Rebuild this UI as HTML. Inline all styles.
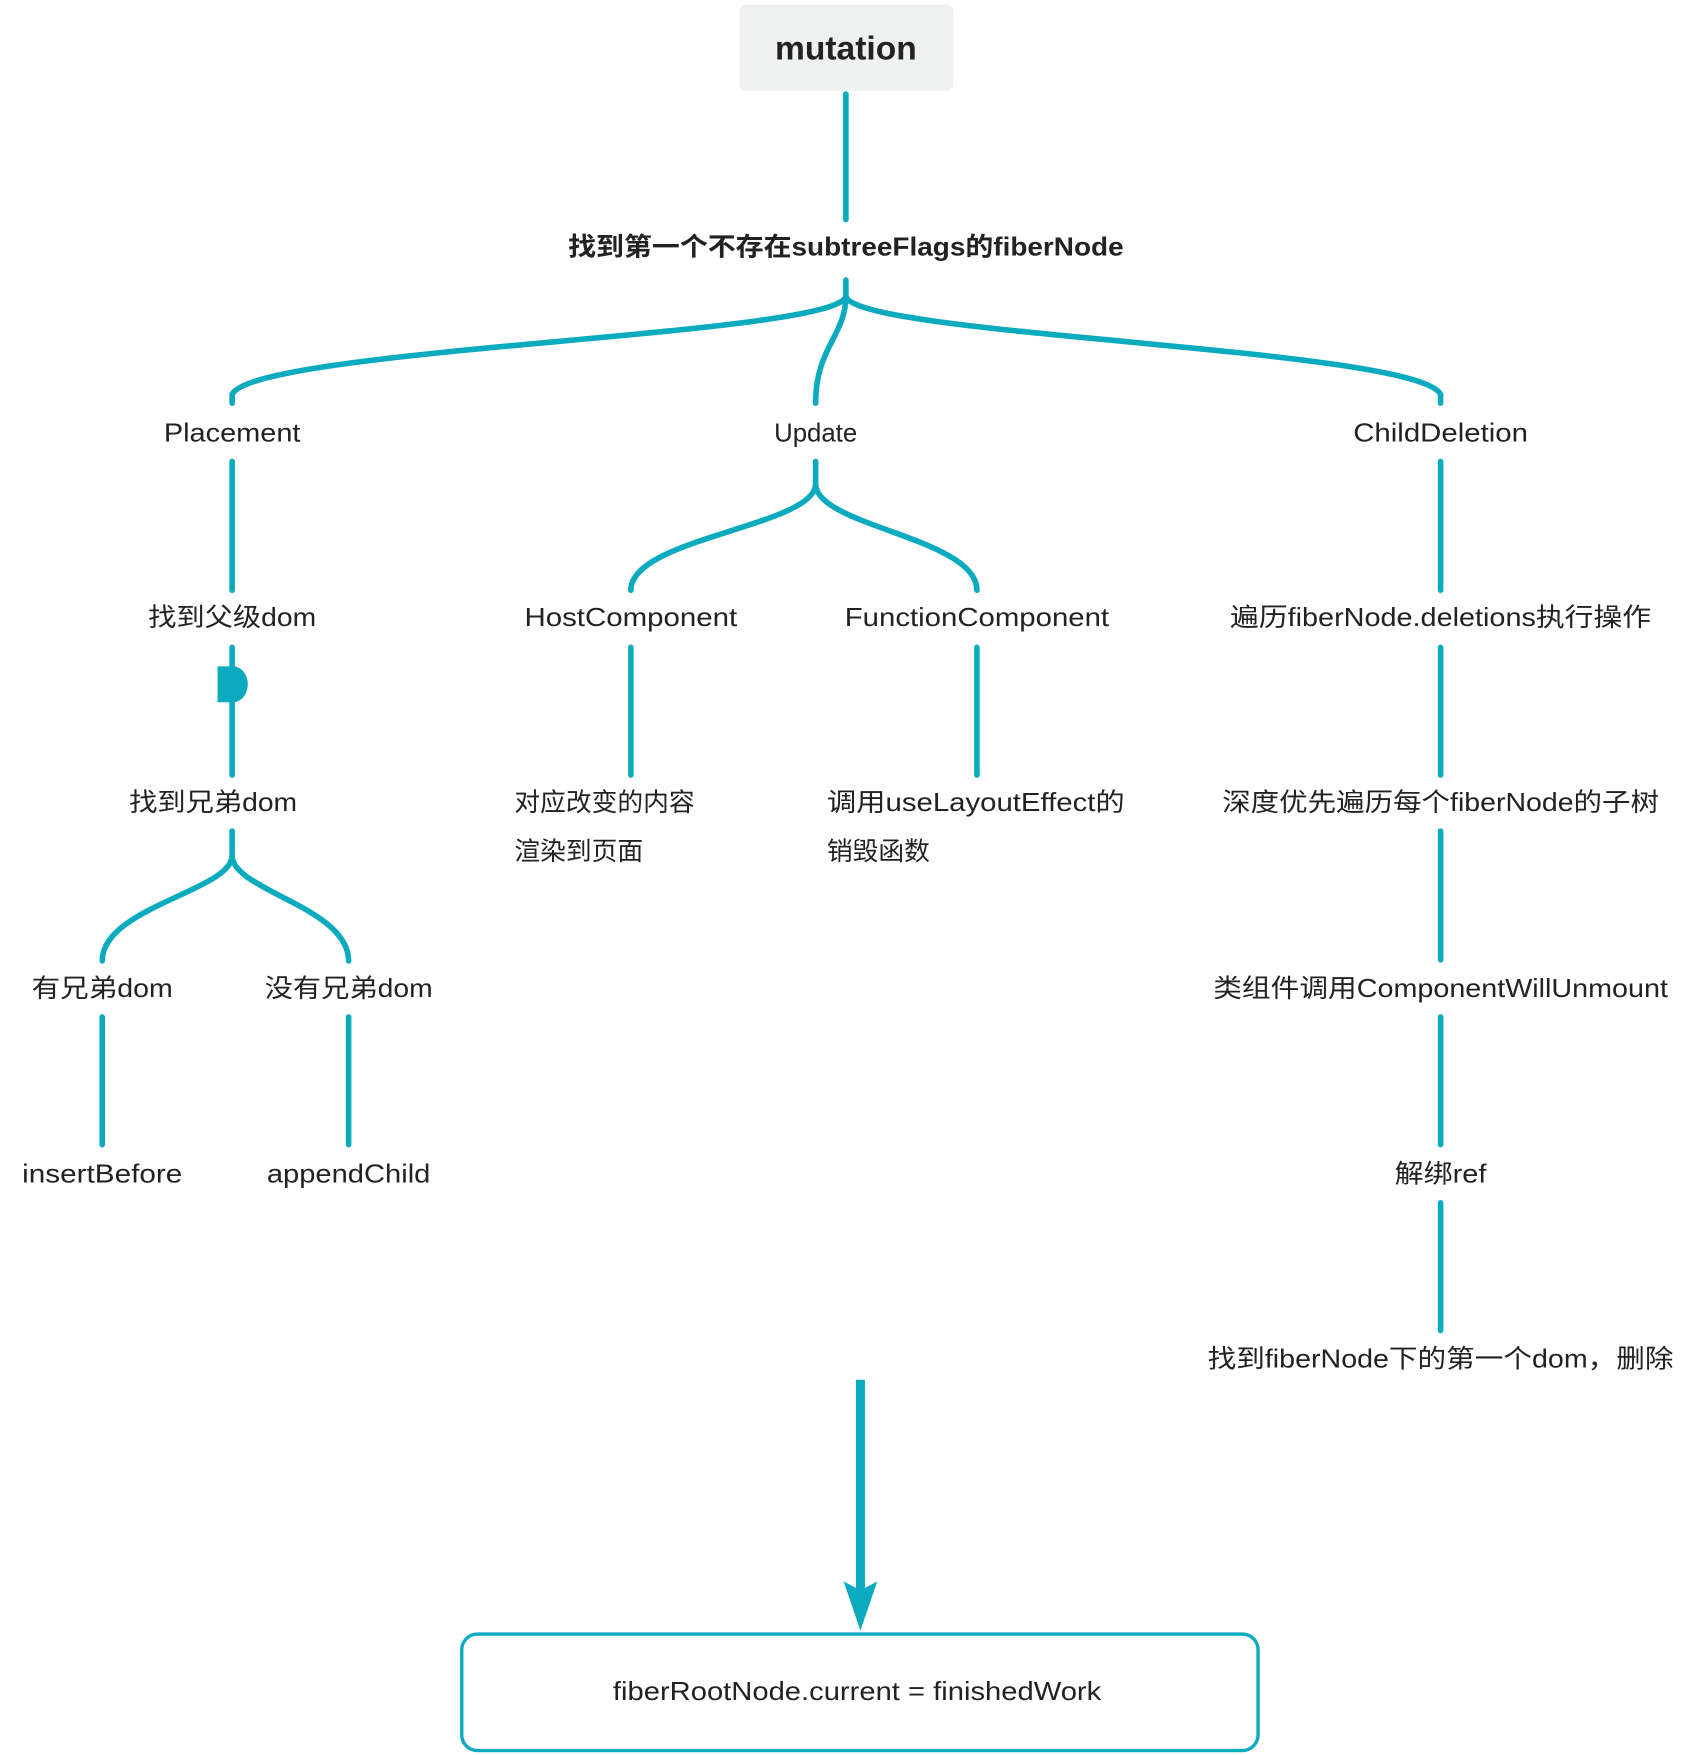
<!DOCTYPE html>
<html><head><meta charset="utf-8"><style>
html,body{margin:0;padding:0;background:#fff;}
svg{display:block;}
text{font-family:"Liberation Sans","Noto Sans CJK SC",sans-serif;fill:#222;font-size:23px;}
.c{text-anchor:middle;}
</style></head><body>
<svg width="1694" height="1755" viewBox="0 0 1512 1567" xmlns="http://www.w3.org/2000/svg">
<g fill="none" stroke="#0aabbf" stroke-width="5" stroke-linecap="round">
<path d="M755,84 V196"/>
<path d="M755,250 V264 C752,300 230,310 207,352 V360"/>
<path d="M755,264 C755,300 728,310 728,360"/>
<path d="M755,264 C758,300 1262,310 1286,352 V360"/>
<path d="M207,412 V527"/>
<path d="M207,578 V692"/>
<path d="M207,742 V764 C207,795 91,810 91,858"/>
<path d="M207,764 C207,795 311,810 311,858"/>
<path d="M91,908 V1022"/><path d="M311,908 V1022"/>
<path d="M728,412 V432 C728,470 563,480 563,527"/>
<path d="M728,432 C728,470 872,480 872,527"/>
<path d="M563,578 V692"/><path d="M872,578 V692"/>
<path d="M1286,412 V527"/><path d="M1286,578 V692"/><path d="M1286,742 V857"/><path d="M1286,908 V1022"/><path d="M1286,1074 V1188"/>
</g>
<path d="M194,595 H208 A13,16 0 0 1 208,627 H194 Z" fill="#0aabbf"/>
<path d="M768,1232 V1420" stroke="#0aabbf" stroke-width="8" fill="none"/>
<path d="M753,1412 L768,1420 L783,1412 L768,1456 Z" fill="#0aabbf"/>
<rect x="660" y="4" width="191" height="77" rx="6" fill="#eff0f0"/>
<text class="c" x="755" y="53" style="font-size:30px;font-weight:bold">mutation</text>
<text class="c" x="755" y="228" style="font-weight:bold" textLength="496" lengthAdjust="spacingAndGlyphs">找到第一个不存在subtreeFlags的fiberNode</text>
<text class="c" x="207" y="394" textLength="122" lengthAdjust="spacingAndGlyphs">Placement</text>
<text class="c" x="728" y="394">Update</text>
<text class="c" x="1286" y="394" textLength="156" lengthAdjust="spacingAndGlyphs">ChildDeletion</text>
<text class="c" x="207" y="559" textLength="150" lengthAdjust="spacingAndGlyphs">找到父级dom</text>
<text class="c" x="190" y="724" textLength="150" lengthAdjust="spacingAndGlyphs">找到兄弟dom</text>
<text class="c" x="91" y="890" textLength="126" lengthAdjust="spacingAndGlyphs">有兄弟dom</text>
<text class="c" x="311" y="890" textLength="150" lengthAdjust="spacingAndGlyphs">没有兄弟dom</text>
<text class="c" x="91" y="1056" textLength="143" lengthAdjust="spacingAndGlyphs">insertBefore</text>
<text class="c" x="311" y="1056" textLength="146" lengthAdjust="spacingAndGlyphs">appendChild</text>
<text class="c" x="563" y="559" textLength="190" lengthAdjust="spacingAndGlyphs">HostComponent</text>
<text class="c" x="872" y="559" textLength="236" lengthAdjust="spacingAndGlyphs">FunctionComponent</text>
<text x="459" y="724">对应改变的内容</text>
<text x="459" y="768">渲染到页面</text>
<text x="738" y="724" textLength="266" lengthAdjust="spacingAndGlyphs">调用useLayoutEffect的</text>
<text x="738" y="768">销毁函数</text>
<text class="c" x="1286" y="559" textLength="376" lengthAdjust="spacingAndGlyphs">遍历fiberNode.deletions执行操作</text>
<text class="c" x="1286" y="724" textLength="390" lengthAdjust="spacingAndGlyphs">深度优先遍历每个fiberNode的子树</text>
<text class="c" x="1286" y="890" textLength="406" lengthAdjust="spacingAndGlyphs">类组件调用ComponentWillUnmount</text>
<text class="c" x="1286" y="1056" textLength="82" lengthAdjust="spacingAndGlyphs">解绑ref</text>
<text class="c" x="1286" y="1221" textLength="416" lengthAdjust="spacingAndGlyphs">找到fiberNode下的第一个dom，删除</text>
<rect x="412" y="1459" width="711" height="104" rx="14" fill="none" stroke="#0aabbf" stroke-width="3"/>
<text class="c" x="765" y="1518" textLength="436" lengthAdjust="spacingAndGlyphs">fiberRootNode.current = finishedWork</text>
</svg>
</body></html>
